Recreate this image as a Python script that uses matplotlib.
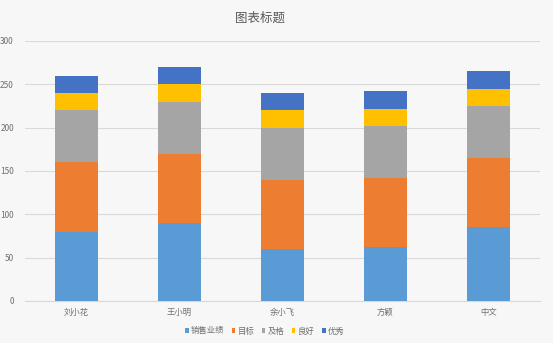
import matplotlib
matplotlib.use("Agg")
import matplotlib.pyplot as plt
import numpy as np

# chart data
names = ["刘小花", "王小明", "余小飞", "方颖", "中文"]
series_names = ["销售业绩", "目标", "及格", "良好", "优秀"]
sales = [80, 90, 60, 62, 85]
target = [80, 80, 80, 80, 80]
passed = [60, 60, 60, 60, 60]
good = [20, 20, 20, 20, 20]
excellent = [20, 20, 20, 20, 20]
colors = ["#5B9BD5", "#ED7D31", "#A5A5A5", "#FFC000", "#4472C4"]

plt.rcParams['font.family'] = ['Noto Sans CJK SC', 'DejaVu Sans']

fig = plt.figure(figsize=(5.53, 3.43), dpi=100)
fig.patch.set_facecolor("#f7f7f7")
ax = fig.add_axes([25 / 553, 1 - 301 / 343, 515 / 553, 260 / 343])
ax.set_facecolor("#f7f7f7")

x = np.arange(len(names))
bottom = np.zeros(len(names))
for vals, label, c in zip([sales, target, passed, good, excellent], series_names, colors):
    ax.bar(x, vals, width=0.41, bottom=bottom, color=c, label=label, zorder=3)
    bottom += np.array(vals)

ax.set_xlim(-0.5, len(names) - 0.5)
ax.set_ylim(0, 300)
ax.set_yticks(range(0, 301, 50))
ax.set_xticks(x)
ax.set_xticklabels(names)
ax.grid(axis="y", color="#d9d9d9", linewidth=0.8, zorder=0)
for s in ["top", "right", "left"]:
    ax.spines[s].set_visible(False)
ax.spines["bottom"].set_color("#d9d9d9")
ax.tick_params(length=0, labelsize=6, colors="#707070")
ax.tick_params(axis="y", pad=8)
ax.tick_params(axis="x", pad=5)

fig.text(260 / 553, 1 - 18 / 343, "图表标题", ha="center", va="center",
         fontsize=9, color="#595959")

fig.legend(loc="center", bbox_to_anchor=(265 / 553, 1 - 331 / 343), ncol=5,
           frameon=False, fontsize=6, labelcolor="#707070",
           handlelength=0.4, handleheight=0.4, handletextpad=0.3, columnspacing=0.9)

fig.savefig("out.png", dpi=100, facecolor=fig.get_facecolor())
